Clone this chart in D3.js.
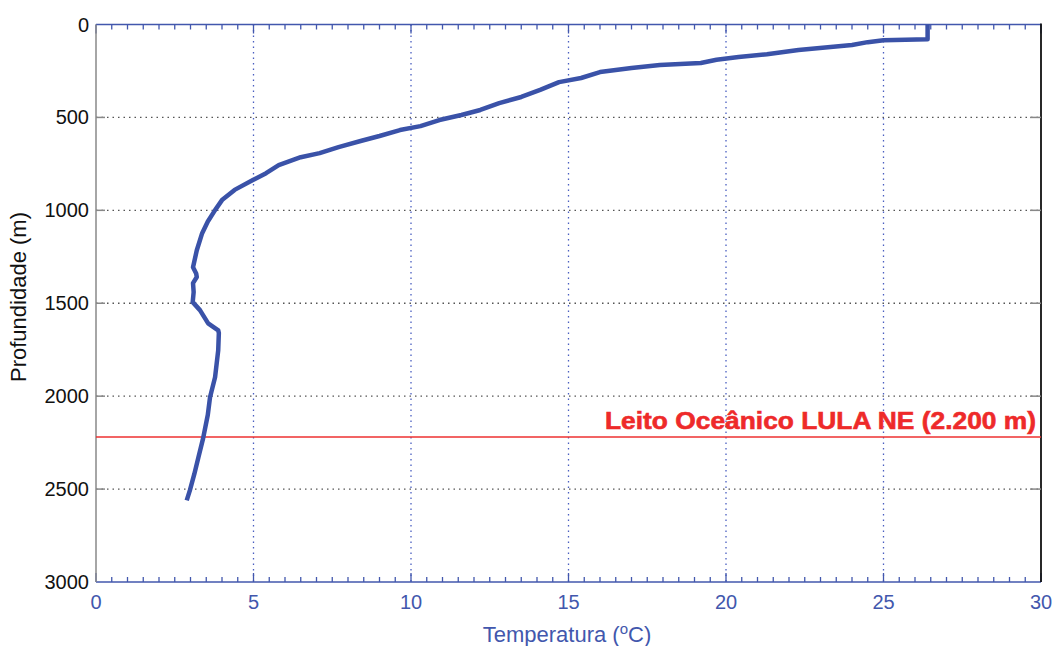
<!DOCTYPE html>
<html>
<head>
<meta charset="utf-8">
<script src="https://cdn.jsdelivr.net/npm/d3@7"></script>
<style>
  body { margin: 0; background: #fff; }
  text { font-family: "Liberation Sans", Arial, sans-serif; }
</style>
</head>
<body>
<svg id="chart" width="1052" height="646"></svg>
<script>
// temperature profile (depth in m, temperature in degC)
var depth = [0, 40, 80, 85, 95, 110, 137, 160, 175, 190, 207, 218, 234, 256, 288, 310, 352, 390, 423, 460, 487, 514, 547, 568, 600, 627, 660, 692, 714, 757, 800, 837, 890, 945, 999, 1060, 1123, 1215, 1306, 1340, 1359, 1392, 1440, 1494, 1537, 1608, 1646, 1660, 1753, 1898, 2006, 2100, 2227, 2330, 2420, 2507, 2561];
var temp  = [26.4, 26.4, 26.4, 25.0, 24.5, 24.0, 22.3, 21.3, 20.4, 19.7, 19.2, 17.9, 17.0, 16.0, 15.4, 14.7, 14.1, 13.5, 12.8, 12.2, 11.6, 10.9, 10.3, 9.65, 9.0, 8.4, 7.7, 7.1, 6.5, 5.8, 5.4, 4.98, 4.4, 4.0, 3.78, 3.55, 3.37, 3.2, 3.08, 3.18, 3.2, 3.08, 3.1, 3.07, 3.3, 3.56, 3.88, 3.9, 3.88, 3.78, 3.62, 3.55, 3.4, 3.25, 3.12, 2.98, 2.88];

var xTicks = [0, 5, 10, 15, 20, 25, 30];
var yTicks = [0, 500, 1000, 1500, 2000, 2500, 3000];
var seabedDepth = 2220;
var seabedLabel = "Leito Oceânico LULA NE (2.200 m)";

var svg = d3.select("#chart");
var pLeft = 96, pRight = 1041, pTop = 24.5, pBottom = 582;
var blue = "#4257ad";

var x = d3.scaleLinear().domain([0, 30]).range([pLeft, pRight]);
var y = d3.scaleLinear().domain([0, 3000]).range([pTop, pBottom]);

// grid
svg.append("g").selectAll("line").data(yTicks.slice(1, -1)).enter().append("line")
    .attr("x1", pLeft).attr("x2", pRight)
    .attr("y1", function(d) { return y(d); }).attr("y2", function(d) { return y(d); })
    .attr("stroke", "#555").attr("stroke-width", 1.3).attr("stroke-dasharray", "1.5,4");
svg.append("g").selectAll("line").data(xTicks.slice(1, -1)).enter().append("line")
    .attr("x1", function(d) { return x(d); }).attr("x2", function(d) { return x(d); })
    .attr("y1", pTop).attr("y2", pBottom)
    .attr("stroke", "#4a5fc0").attr("stroke-width", 1.3).attr("stroke-dasharray", "1.5,4");

// x axes (bottom and top), minor ticks every 0.5
var minor = d3.range(0, 30.01, 0.5);
svg.append("line").attr("x1", pLeft).attr("x2", pRight).attr("y1", pBottom).attr("y2", pBottom)
    .attr("stroke", blue).attr("stroke-width", 1.5);
svg.append("line").attr("x1", pLeft).attr("x2", pRight).attr("y1", pTop).attr("y2", pTop)
    .attr("stroke", blue).attr("stroke-width", 1.5);
minor.forEach(function(d) {
    var len = (d % 5 === 0) ? 9 : 5;
    svg.append("line").attr("x1", x(d)).attr("x2", x(d)).attr("y1", pBottom).attr("y2", pBottom - len)
        .attr("stroke", blue).attr("stroke-width", 1.3);
    svg.append("line").attr("x1", x(d)).attr("x2", x(d)).attr("y1", pTop).attr("y2", pTop + len)
        .attr("stroke", blue).attr("stroke-width", 1.3);
});
svg.append("g").selectAll("text").data(xTicks).enter().append("text")
    .attr("x", function(d) { return x(d); }).attr("y", 609)
    .attr("text-anchor", "middle").attr("font-size", 20).attr("fill", blue)
    .text(function(d) { return d; });

// y axes
svg.append("line").attr("x1", pLeft).attr("x2", pLeft).attr("y1", pTop).attr("y2", pBottom)
    .attr("stroke", "#888").attr("stroke-width", 1.5);
svg.append("line").attr("x1", pRight).attr("x2", pRight).attr("y1", pTop - 1).attr("y2", pBottom)
    .attr("stroke", "#111").attr("stroke-width", 1.8);
yTicks.slice(1, -1).forEach(function(d) {
    svg.append("line").attr("x1", pLeft).attr("x2", pLeft + 9).attr("y1", y(d)).attr("y2", y(d))
        .attr("stroke", "#888").attr("stroke-width", 1.5);
    svg.append("line").attr("x1", pRight - 11).attr("x2", pRight).attr("y1", y(d)).attr("y2", y(d))
        .attr("stroke", "#888").attr("stroke-width", 1.5);
});
svg.append("g").selectAll("text").data(yTicks).enter().append("text")
    .attr("x", 89).attr("y", function(d) { return y(d) + 7; })
    .attr("text-anchor", "end").attr("font-size", 20).attr("fill", "#111")
    .text(function(d) { return d; });

// axis labels
var xl = svg.append("text").attr("x", 567).attr("y", 642).attr("text-anchor", "middle")
    .attr("font-size", 22).attr("fill", blue);
xl.append("tspan").text("Temperatura (");
xl.append("tspan").attr("dy", -8).attr("font-size", 15).text("o");
xl.append("tspan").attr("dy", 8).text("C)");
svg.append("text").attr("transform", "translate(26,297) rotate(-90)")
    .attr("text-anchor", "middle").attr("font-size", 22).attr("fill", "#111")
    .text("Profundidade (m)");

// seabed line
svg.append("line").attr("x1", pLeft).attr("x2", pRight)
    .attr("y1", y(seabedDepth)).attr("y2", y(seabedDepth))
    .attr("stroke", "#ee3030").attr("stroke-width", 1.5);
svg.append("text").attr("x", 605).attr("y", 429)
    .attr("font-size", 24).attr("font-weight", "bold")
    .attr("stroke", "#ee2a2a").attr("stroke-width", 0.6)
    .attr("textLength", 431).attr("lengthAdjust", "spacingAndGlyphs")
    .attr("fill", "#ee2a2a").text(seabedLabel);

// profile
var pts = depth.map(function(d, i) { return [temp[i], d]; });
svg.append("path").datum(pts)
    .attr("fill", "none").attr("stroke", "#3a52a8").attr("stroke-width", 4.5)
    .attr("stroke-linejoin", "round")
    .attr("d", d3.line().x(function(d) { return x(d[0]); }).y(function(d) { return y(d[1]); }));
</script>
</body>
</html>
